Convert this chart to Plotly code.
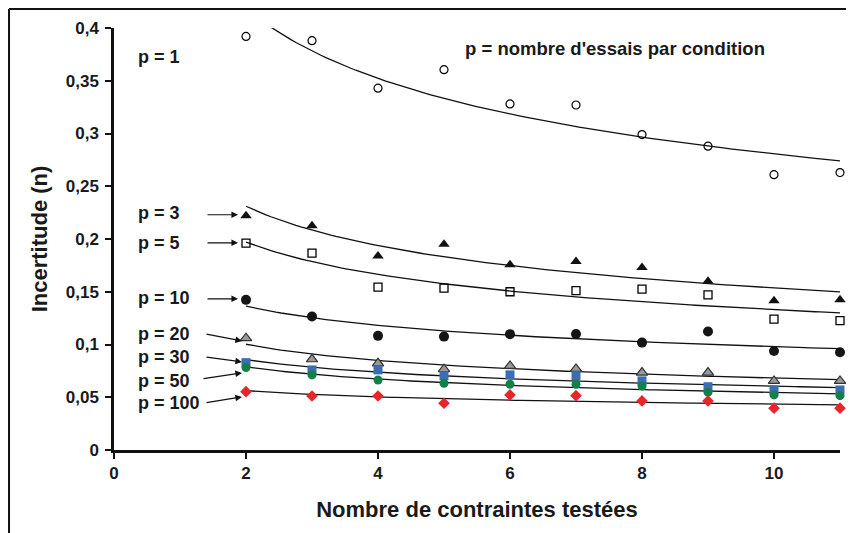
import numpy as np
import plotly.graph_objects as go

# ! Data
n_contraintes = [2, 3, 4, 5, 6, 7, 8, 9, 10, 11]

p1 = [0.392, 0.388, 0.343, 0.3605, 0.328, 0.327, 0.299, 0.288, 0.261, 0.263]
p3 = [0.222, 0.2125, 0.184, 0.195, 0.1755, 0.1787, 0.173, 0.160, 0.1414, 0.1423]
p5 = [0.196, 0.1866, 0.1543, 0.1534, 0.150, 0.151, 0.1524, 0.147, 0.124, 0.1227]
p10 = [0.1423, 0.1265, 0.1082, 0.1075, 0.1098, 0.110, 0.1018, 0.1123, 0.0939, 0.0927]
p20 = [0.106, 0.086, 0.0822, 0.0766, 0.0797, 0.0769, 0.0734, 0.0734, 0.0655, 0.0655]
p30 = [0.0828, 0.0759, 0.0759, 0.0705, 0.0712, 0.0705, 0.0655, 0.060, 0.0569, 0.0569]
p50 = [0.0781, 0.0712, 0.0664, 0.0633, 0.0623, 0.0623, 0.0607, 0.0548, 0.0522, 0.0515]
p100 = [0.0553, 0.0512, 0.0512, 0.0443, 0.0522, 0.0515, 0.0465, 0.0465, 0.0396, 0.0396]

x_ticks = [0, 2, 4, 6, 8, 10]
y_ticks = [0, 0.05, 0.1, 0.15, 0.2, 0.25, 0.3, 0.35, 0.4]
y_ticklabels = ["0", "0,05", "0,1", "0,15", "0,2", "0,25", "0,3", "0,35", "0,4"]

FONT = "Arial, Liberation Sans, sans-serif"
TXT = "#1a1a1a"

# ! (#) marker styles per series
series = [
    ("p = 1", p1, dict(symbol="circle-open", size=8, color="black", line=dict(width=1.2, color="black"))),
    ("p = 3", p3, dict(symbol="triangle-up", size=10, color="#111111")),
    ("p = 5", p5, dict(symbol="square-open", size=8, color="black", line=dict(width=1.3, color="black"))),
    ("p = 10", p10, dict(symbol="circle", size=10, color="#151515")),
    ("p = 20", p20, dict(symbol="triangle-up", size=10, color="#9a9a9a", line=dict(width=1.2, color="#333333"))),
    ("p = 30", p30, dict(symbol="square", size=9, color="#3a6db3")),
    ("p = 50", p50, dict(symbol="circle", size=9, color="#138049")),
    ("p = 100", p100, dict(symbol="diamond", size=9, color="#e8262a")),
]

fig = go.Figure()

# power regression lines (y = a*x^b), fitted on each series
xs = np.linspace(min(n_contraintes), max(n_contraintes), 120)
for name, vals, mk in series:
    b, lna = np.polyfit(np.log(n_contraintes), np.log(vals), 1)
    fig.add_trace(go.Scatter(x=xs, y=np.exp(lna) * xs ** b, mode="lines",
                             line=dict(color="#111111", width=1.3), showlegend=False, hoverinfo="skip"))

for name, vals, mk in series:
    fig.add_trace(go.Scatter(x=n_contraintes, y=vals, mode="markers", name=name,
                             marker=mk, showlegend=False, cliponaxis=False))

# ! labels + arrows
labels = [
    ("p = 1", 0.3729, None),
    ("p = 3", 0.2249, ((1.394, 0.2230), (1.879, 0.2230))),
    ("p = 5", 0.1964, ((1.394, 0.1964), (1.879, 0.1964))),
    ("p = 10", 0.1442, ((1.394, 0.1433), (1.879, 0.1433))),
    ("p = 20", 0.1101, ((1.379, 0.1101), (1.939, 0.1034))),
    ("p = 30", 0.0882, ((1.379, 0.0882), (1.939, 0.0835))),
    ("p = 50", 0.0655, ((1.333, 0.0674), (1.939, 0.0731))),
    ("p = 100", 0.0446, ((1.379, 0.0446), (1.939, 0.0503))),
]
for txt, ly, arr in labels:
    fig.add_annotation(x=0.33, y=ly, xref="x", yref="y", text=txt, showarrow=False,
                       xanchor="left", yanchor="middle",
                       font=dict(family=FONT, size=18, color=TXT, weight="bold"))
    if arr:
        (tx, ty), (hx, hy) = arr
        fig.add_annotation(x=hx, y=hy, ax=tx, ay=ty, xref="x", yref="y", axref="x", ayref="y",
                           text="", showarrow=True, arrowhead=2, arrowsize=1.1, arrowwidth=1.2,
                           arrowcolor="#111111", standoff=0, startstandoff=0)

fig.add_annotation(x=7.59, y=0.3805, xref="x", yref="y", text="p = nombre d'essais par condition",
                   showarrow=False, font=dict(family=FONT, size=18.5, color=TXT, weight="bold"))

# outer frame: only its left and top edges are in the picture
frame = dict(color="#111111", width=2)
fig.add_shape(type="line", xref="paper", yref="paper", x0=-0.1446, x1=-0.1446, y0=-0.25, y1=1.045, line=frame)
fig.add_shape(type="line", xref="paper", yref="paper", x0=-0.1446, x1=1.08, y0=1.045, y1=1.045, line=frame)

fig.update_layout(
    width=846, height=525,
    margin=dict(l=106, r=14, t=20, b=83),
    plot_bgcolor="white", paper_bgcolor="white",
    font=dict(family=FONT, color=TXT),
)
fig.update_xaxes(range=[0, 11], tickvals=x_ticks, ticks="outside", ticklen=6, tickwidth=2,
                 tickcolor="#111111", showline=True, linecolor="#111111", linewidth=2.5,
                 showgrid=False, zeroline=False,
                 tickfont=dict(family=FONT, size=17, color=TXT, weight="bold"),
                 title=dict(text="Nombre de contraintes testées", standoff=20,
                            font=dict(family=FONT, size=22, color=TXT, weight="bold")))
fig.update_yaxes(range=[0, 0.4], tickvals=y_ticks, ticktext=y_ticklabels, ticks="outside", ticklen=6,
                 tickwidth=2, tickcolor="#111111", showline=True, linecolor="#111111", linewidth=2.5,
                 showgrid=False, zeroline=False, ticklabelstandoff=3,
                 tickfont=dict(family=FONT, size=17, color=TXT, weight="bold"),
                 title=dict(text="Incertitude (n)", standoff=13,
                            font=dict(family=FONT, size=22, color=TXT, weight="bold")))

fig.write_html("out.html")
